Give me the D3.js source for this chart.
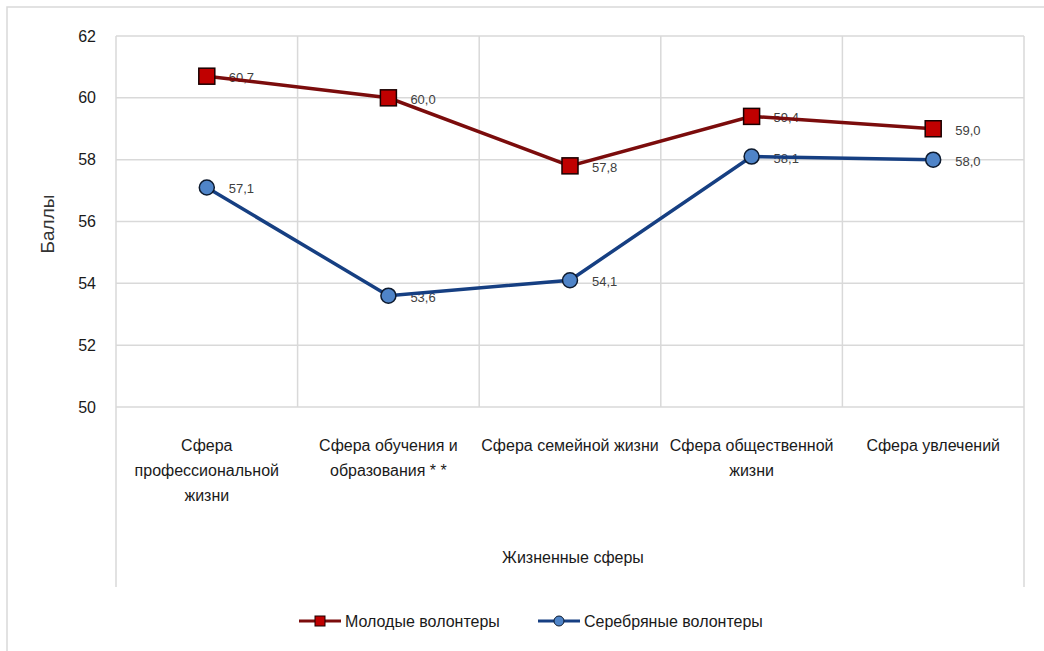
<!DOCTYPE html>
<html>
<head>
<meta charset="utf-8">
<script src="https://cdn.jsdelivr.net/npm/d3@7"></script>
<style>
  body { margin: 0; background: #fff; }
  svg { display: block; font-family: "Liberation Sans", Arial, sans-serif; }
</style>
</head>
<body>
<div id="chart"></div>
<script>
// categories, each split into the lines shown under the axis
const categories = [
    ['Сфера', 'профессиональной', 'жизни'],
    ['Сфера обучения и', 'образования * *'],
    ['Сфера семейной жизни'],
    ['Сфера общественной', 'жизни'],
    ['Сфера увлечений']
]
const seriesNames = ['Молодые волонтеры', 'Серебряные волонтеры']
const youngValues = [60.7, 60.0, 57.8, 59.4, 59.0]
const silverValues = [57.1, 53.6, 54.1, 58.1, 58.0]
const yTicks = [50, 52, 54, 56, 58, 60, 62]
const yTitle = 'Баллы'
const xTitle = 'Жизненные сферы'

const width = 1044, height = 651
const margin = { left: 116, right: 20, top: 36, bottom: 244 }
const gridColor = '#d9d9d9'
const redLine = '#7b0c0c', redFill = '#c00000'
const blueLine = '#163f82', blueFill = '#4f84c8'

const svg = d3.select('#chart').append('svg')
    .attr('width', width)
    .attr('height', height)

const x = d3.scaleBand()
    .domain(d3.range(categories.length))
    .range([margin.left, width - margin.right])

const y = d3.scaleLinear()
    .domain([50, 62])
    .range([height - margin.bottom, margin.top])

// outer chart frame (left + top edges visible)
svg.append('path')
    .attr('d', `M7,${height} V7 H${width}`)
    .attr('fill', 'none')
    .attr('stroke', gridColor)
    .attr('stroke-width', 1.5)

// horizontal gridlines
svg.append('g')
    .selectAll('line')
    .data(yTicks)
    .enter()
    .append('line')
    .attr('x1', margin.left)
    .attr('x2', width - margin.right)
    .attr('y1', d => y(d))
    .attr('y2', d => y(d))
    .attr('stroke', gridColor)
    .attr('stroke-width', 1.5)

// vertical category separators; outer ones run down through the label area
const bounds = d3.range(categories.length + 1)
svg.append('g')
    .selectAll('line')
    .data(bounds)
    .enter()
    .append('line')
    .attr('x1', i => margin.left + i * x.bandwidth())
    .attr('x2', i => margin.left + i * x.bandwidth())
    .attr('y1', margin.top)
    .attr('y2', i => (i === 0 || i === categories.length) ? 587 : y(50))
    .attr('stroke', gridColor)
    .attr('stroke-width', 1.5)

// y axis tick labels
const yAxis = d3.axisLeft(y).tickValues(yTicks).tickSize(0).tickPadding(0)
const gy = svg.append('g')
    .attr('transform', `translate(${margin.left - 20},0)`)
    .call(yAxis)
gy.select('.domain').remove()
gy.selectAll('text')
    .attr('font-family', '"Liberation Sans", Arial, sans-serif')
    .attr('font-size', 16)
    .attr('fill', '#1a1a1a')

// y title
svg.append('text')
    .attr('transform', `translate(54,${224}) rotate(-90)`)
    .attr('text-anchor', 'middle')
    .attr('font-size', 19)
    .attr('fill', '#333')
    .text(yTitle)

// category labels
const catG = svg.append('g')
    .selectAll('text')
    .data(categories)
    .enter()
    .append('text')
    .attr('text-anchor', 'middle')
    .attr('font-size', 16)
    .attr('fill', '#1a1a1a')
catG.selectAll('tspan')
    .data((d, i) => d.map(s => ({ s, i })))
    .enter()
    .append('tspan')
    .attr('x', d => x(d.i) + x.bandwidth() / 2)
    .attr('y', (d, j) => 451 + j * 25)
    .text(d => d.s)

// x title
svg.append('text')
    .attr('x', (margin.left + width - margin.right) / 2 + 3)
    .attr('y', 563)
    .attr('text-anchor', 'middle')
    .attr('font-size', 16)
    .attr('fill', '#1a1a1a')
    .text(xTitle)

const cx = i => x(i) + x.bandwidth() / 2
const line = d3.line()
    .x((d, i) => cx(i))
    .y(d => y(d))

// data labels (drawn under the lines, as in the source)
function labels(values, dy) {
    svg.append('g')
        .selectAll('text')
        .data(values)
        .enter()
        .append('text')
        .attr('x', (d, i) => cx(i) + 22)
        .attr('y', d => y(d) + dy)
        .attr('font-size', 13)
        .attr('fill', '#404040')
        .text(d => d.toFixed(1).replace('.', ','))
}
labels(youngValues, 6)
labels(silverValues, 6)

svg.append('path')
    .datum(youngValues)
    .attr('d', line)
    .attr('fill', 'none')
    .attr('stroke', redLine)
    .attr('stroke-width', 3.5)

svg.append('path')
    .datum(silverValues)
    .attr('d', line)
    .attr('fill', 'none')
    .attr('stroke', blueLine)
    .attr('stroke-width', 3.5)

svg.append('g')
    .selectAll('rect')
    .data(youngValues)
    .enter()
    .append('rect')
    .attr('x', (d, i) => cx(i) - 8)
    .attr('y', d => y(d) - 8)
    .attr('width', 16)
    .attr('height', 16)
    .attr('fill', redFill)
    .attr('stroke', '#1a0000')
    .attr('stroke-width', 1.5)

svg.append('g')
    .selectAll('circle')
    .data(silverValues)
    .enter()
    .append('circle')
    .attr('cx', (d, i) => cx(i))
    .attr('cy', d => y(d))
    .attr('r', 7.5)
    .attr('fill', blueFill)
    .attr('stroke', '#0d1a2e')
    .attr('stroke-width', 1.5)

// legend
const legendItems = [
    { name: seriesNames[0], x: 299, stroke: redLine, fill: redFill, shape: 'rect' },
    { name: seriesNames[1], x: 538, stroke: blueLine, fill: blueFill, shape: 'circle' }
]
const ly = 621
const lg = svg.append('g')
    .selectAll('g')
    .data(legendItems)
    .enter()
    .append('g')
    .attr('transform', d => `translate(${d.x},${ly})`)
lg.append('line')
    .attr('x1', 0).attr('x2', 42)
    .attr('stroke', d => d.stroke)
    .attr('stroke-width', 3)
lg.filter(d => d.shape === 'rect').append('rect')
    .attr('x', 16).attr('y', -5).attr('width', 10).attr('height', 10)
    .attr('fill', d => d.fill).attr('stroke', '#1a0000')
lg.filter(d => d.shape === 'circle').append('circle')
    .attr('cx', 21).attr('r', 5)
    .attr('fill', d => d.fill).attr('stroke', '#0d1a2e')
lg.append('text')
    .attr('x', 46)
    .attr('y', 6)
    .attr('font-size', 16)
    .attr('fill', '#1a1a1a')
    .text(d => d.name)
</script>
</body>
</html>
